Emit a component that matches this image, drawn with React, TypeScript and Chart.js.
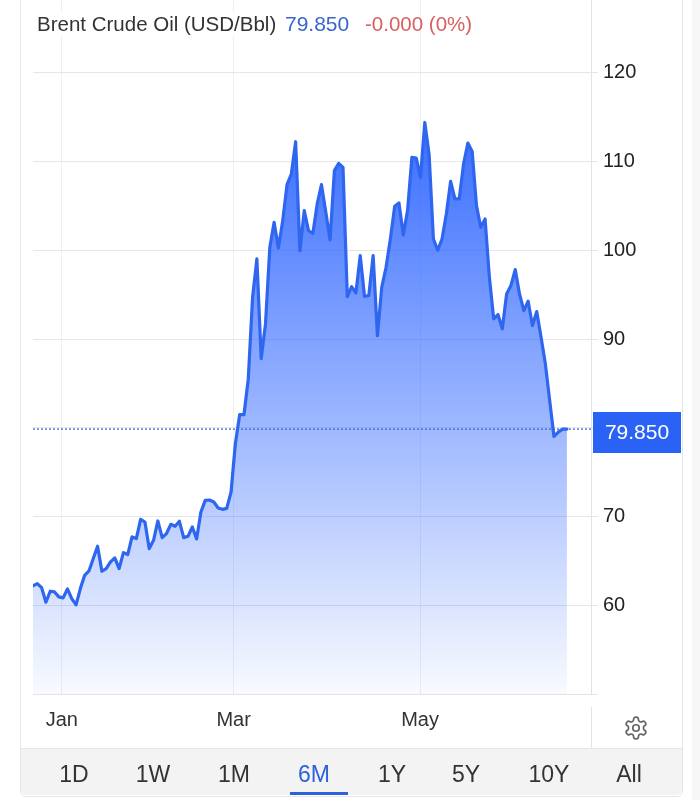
import React, { useEffect, useRef } from "react";
import { Chart, registerables } from "chart.js";

Chart.register(...registerables);

const FONT = '"Liberation Sans", Arial, sans-serif';

const oilPrices = [
  62.18, 62.44, 61.99, 60.34, 61.58, 61.5, 60.94, 60.83, 61.84, 60.75,
  60.04, 61.88, 63.38, 63.87, 65.26, 66.65, 63.83, 64.13, 64.88, 65.33,
  64.13, 65.93, 65.71, 67.7, 67.51, 69.68, 69.38, 66.38, 67.32, 69.5,
  67.62, 68.07, 69.12, 68.9, 69.46, 67.62, 67.77, 68.82, 67.47, 70.51,
  71.82, 71.86, 71.64, 70.96, 70.81, 70.92, 72.76, 78.2, 81.47, 81.47,
  85.5, 94.7, 99.02, 87.8, 91.7, 100.3, 103.15, 100.26, 103.34, 107.39,
  108.59, 112.23, 99.96, 104.46, 102.2, 101.9, 105.2, 107.39, 104.3, 101.16,
  108.97, 109.79, 109.34, 94.78, 95.9, 95.2, 99.4, 94.8, 94.9, 99.4,
  90.39, 95.83, 98.08, 101.27, 104.95, 105.33, 101.72, 104.5, 110.47, 110.4,
  108.2, 114.4, 110.8, 101.27, 100.0, 101.27, 104.09, 107.77, 105.78, 105.78,
  109.72, 112.08, 111.14, 105.03, 102.59, 103.52, 96.96, 92.27, 92.76, 91.14,
  95.08, 96.02, 97.82, 95.08, 93.2, 94.26, 91.52, 93.09, 90.2, 87.2,
  83.08, 79.02, 79.51, 79.85, 79.85,
];
const lastPrice = 79.85;
const monthLabels = ["Jan", "Mar", "May"];
const monthPositions = [6.7, 46.6, 89.9];
const yTicks = [50, 60, 70, 80, 90, 100, 110, 120];
const yHidden = [50, 80];
const xMax = 129.6;
const yMin = 50;
const yMax = 128.2;
const ranges = ["1D", "1W", "1M", "6M", "1Y", "5Y", "10Y", "All"];
const rangeCenters = [74, 153, 234, 314, 392, 466, 549, 629];
const activeRange = "6M";

const lastPricePlugin = {
  id: "lastPriceBox",
  afterDraw(chart: any) {
    const { ctx, scales } = chart;
    const y = scales.y.getPixelForValue(lastPrice);
    ctx.save();
    ctx.fillStyle = "#2962f4";
    ctx.fillRect(593, Math.round(y) - 17, 88, 41);
    ctx.fillStyle = "#ffffff";
    ctx.font = `21px ${FONT}`;
    ctx.textAlign = "center";
    ctx.textBaseline = "middle";
    ctx.fillText(lastPrice.toFixed(3), 637, Math.round(y) + 4);
    ctx.restore();
  },
};

const clearPadding = (s: any) => {
  s.paddingTop = 0;
  s.paddingBottom = 0;
  s.paddingLeft = 0;
  s.paddingRight = 0;
};

export default function App() {
  const ref = useRef<HTMLCanvasElement | null>(null);

  useEffect(() => {
    if (!ref.current) return;
    const chart = new Chart(ref.current, {
      type: "line",
      data: {
        datasets: [
          {
            data: oilPrices.map((y, x) => ({ x, y })),
            borderColor: "#2f66f0",
            borderWidth: 3.2,
            borderJoinStyle: "round",
            borderCapStyle: "round",
            tension: 0,
            pointRadius: 0,
            fill: "start",
            backgroundColor: (c: any) => {
              const area = c.chart.chartArea;
              if (!area) return "rgba(41,98,255,0.4)";
              const g = c.chart.ctx.createLinearGradient(0, 110, 0, area.bottom);
              g.addColorStop(0, "rgba(41,98,255,0.95)");
              g.addColorStop(1, "rgba(41,98,255,0.03)");
              return g;
            },
          },
          {
            data: [
              { x: 0, y: lastPrice },
              { x: xMax, y: lastPrice },
            ],
            borderColor: "#2458d0",
            borderWidth: 1.2,
            borderDash: [2, 2],
            pointRadius: 0,
            fill: false,
          },
        ],
      },
      options: {
        animation: false,
        responsive: false,
        layout: { padding: { left: 33, top: 0, right: 0, bottom: 0 } },
        plugins: { legend: { display: false }, tooltip: { enabled: false } },
        scales: {
          x: {
            type: "linear",
            min: 0,
            max: xMax,
            afterFit: (s: any) => {
              s.height = 106;
              clearPadding(s);
            },
            afterBuildTicks: (s: any) => {
              s.ticks = monthPositions.map((value) => ({ value }));
            },
            grid: { color: "#eceff3", lineWidth: 1, drawTicks: false },
            border: { color: "#e3e3e3", width: 1 },
            ticks: {
              autoSkip: false,
              maxRotation: 0,
              padding: 14,
              color: "#333333",
              font: { family: FONT, size: 20 },
              callback: (_v: any, i: number) => monthLabels[i],
            },
          },
          y: {
            type: "linear",
            position: "right",
            min: yMin,
            max: yMax,
            afterFit: (s: any) => {
              s.width = 109;
              clearPadding(s);
            },
            afterBuildTicks: (s: any) => {
              s.ticks = yTicks.map((value) => ({ value }));
            },
            grid: { color: "#e6e6e6", lineWidth: 1, tickLength: 7 },
            border: { color: "#e3e3e3", width: 1 },
            ticks: {
              padding: 5,
              color: "#222222",
              font: { family: FONT, size: 20 },
              callback: (v: any) => (yHidden.includes(Number(v)) ? "" : String(v)),
            },
          },
        },
      },
      plugins: [lastPricePlugin],
    } as any);
    return () => chart.destroy();
  }, []);

  const abs = (s: React.CSSProperties): React.CSSProperties => ({ position: "absolute", ...s });

  return (
    <div style={abs({ left: 0, top: 0, width: 700, height: 800, overflow: "hidden", background: "#fff", fontFamily: FONT })}>
      <div style={abs({ left: 692, top: 0, width: 8, height: 800, background: "#f7f7f7" })} />
      <div style={abs({ left: 20, top: -4, width: 661, height: 799, border: "1px solid #e6e6e6", borderRadius: 6 })} />
      <canvas ref={ref} width={700} height={800} style={abs({ left: 0, top: 0, width: 700, height: 800 })} />
      <div style={abs({ left: 37, top: 12, fontSize: 20.5, lineHeight: "24px", color: "#333", whiteSpace: "nowrap", background: "#fff" })}>
        Brent Crude Oil (USD/Bbl)
      </div>
      <div style={abs({ left: 285, top: 12, fontSize: 21, lineHeight: "24px", color: "#3a66cc", whiteSpace: "nowrap" })}>79.850</div>
      <div style={abs({ left: 365, top: 12, fontSize: 20.5, lineHeight: "24px", color: "#d9605f", whiteSpace: "nowrap" })}>-0.000 (0%)</div>
      <div style={abs({ left: 591, top: 707, width: 1, height: 41, background: "#e3e3e3" })} />
      <svg width={26} height={26} viewBox="0 0 24 24" fill="none" stroke="#666" strokeWidth={1.6} style={abs({ left: 623, top: 715 })}>
        <path d="M12.22 2h-.44a2 2 0 0 0-2 2v.18a2 2 0 0 1-1 1.73l-.43.25a2 2 0 0 1-2 0l-.15-.08a2 2 0 0 0-2.73.73l-.22.38a2 2 0 0 0 .73 2.73l.15.1a2 2 0 0 1 1 1.72v.51a2 2 0 0 1-1 1.74l-.15.09a2 2 0 0 0-.73 2.73l.22.38a2 2 0 0 0 2.73.73l.15-.08a2 2 0 0 1 2 0l.43.25a2 2 0 0 1 1 1.73V20a2 2 0 0 0 2 2h.44a2 2 0 0 0 2-2v-.18a2 2 0 0 1 1-1.73l.43-.25a2 2 0 0 1 2 0l.15.08a2 2 0 0 0 2.73-.73l.22-.39a2 2 0 0 0-.73-2.73l-.15-.08a2 2 0 0 1-1-1.74v-.5a2 2 0 0 1 1-1.74l.15-.09a2 2 0 0 0 .73-2.73l-.22-.38a2 2 0 0 0-2.73-.73l-.15.08a2 2 0 0 1-2 0l-.43-.25a2 2 0 0 1-1-1.73V4a2 2 0 0 0-2-2z" />
        <circle cx={12} cy={12} r={3} />
      </svg>
      <div style={abs({ left: 21, top: 748, width: 661, height: 47, background: "#f3f3f3", borderTop: "1px solid #e6e6e6", borderRadius: "0 0 6px 6px", boxSizing: "border-box" })} />
      {ranges.map((r, i) => (
        <div
          key={r}
          style={abs({
            left: rangeCenters[i] - 40,
            top: 761,
            width: 80,
            textAlign: "center",
            fontSize: 23,
            lineHeight: "26px",
            color: r === activeRange ? "#2d62d9" : "#333",
          })}
        >
          {r}
        </div>
      ))}
      <div style={abs({ left: 290, top: 792, width: 58, height: 3, background: "#2d62d9" })} />
    </div>
  );
}
